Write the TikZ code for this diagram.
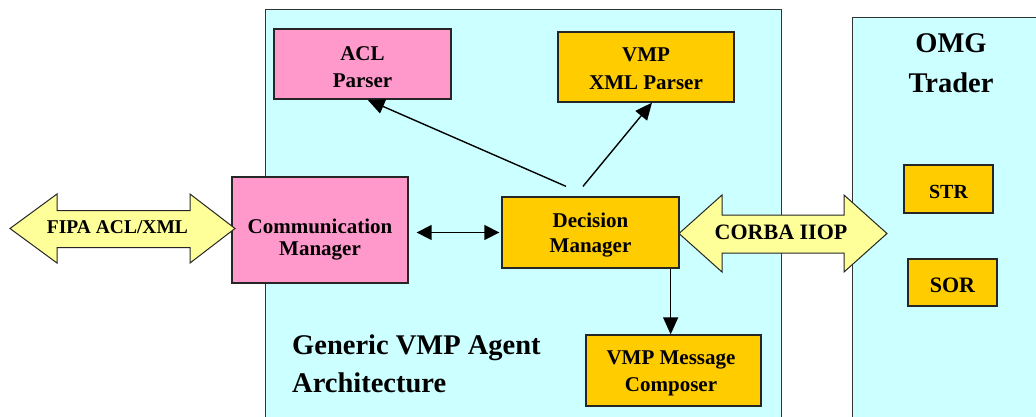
\documentclass[tikz,border=0pt]{standalone}
\usepackage{fontspec}
\setmainfont{Liberation Serif}[BoldFont={Liberation Serif Bold}]
\newfontfamily\labelface{Liberation Serif Bold}
\usetikzlibrary{arrows.meta,calc}
\definecolor{panelcyan}{RGB}{204,255,255}
\definecolor{pinkfill}{RGB}{255,153,204}
\definecolor{goldfill}{RGB}{255,204,0}
\definecolor{paleyellow}{RGB}{255,255,153}
\begin{document}
\begin{tikzpicture}[x=1pt,y=-1pt,
  panel/.style={draw=black!80, line width=1.2pt, fill=panelcyan, inner sep=0pt, anchor=north west},
  blk/.style={draw=black!85, line width=1.3pt, inner sep=0pt},
  pinkblk/.style={blk, fill=pinkfill},
  goldblk/.style={blk, fill=goldfill},
  boxtext/.style={font=\labelface\fontsize{21}{#1}\selectfont, align=center, inner sep=0pt},
  boxtext/.default=26,
  fattext/.style={font=\labelface\fontsize{#1}{#1}\selectfont, inner sep=0pt},
  bigtext/.style={font=\labelface\fontsize{28.5}{#1}\selectfont, inner sep=0pt},
  bigtext/.default=38,
  arr/.style={line width=1.4pt, -{Triangle[length=17pt,width=15pt]}},
  dblarr/.style={line width=1.4pt, {Triangle[length=15pt,width=15pt]}-{Triangle[length=15pt,width=15pt]}},
  fat/.style={draw=black!85, line width=1pt, fill=paleyellow, line join=miter},
]
\useasboundingbox (0,0) rectangle (1036,416);
\fill[white] (0,0) rectangle (1036,416);

% containers
\node[panel, minimum width=516pt, minimum height=430pt] (agent) at (265,9) {};
\node[panel, minimum width=200pt, minimum height=430pt] (trader) at (852,17) {};

% agent components
\node[pinkblk, minimum width=177pt, minimum height=70pt] (acl) at (362.5,64) {};
\node[boxtext=27, yshift=-3.5pt] (acltxt) at (acl) {ACL\\Parser};

\node[goldblk, minimum width=176pt, minimum height=70pt] (xmlp) at (646,67) {};
\node[boxtext=28, yshift=-2pt] (xmlptxt) at (xmlp) {VMP\\XML Parser};

\node[pinkblk, minimum width=176pt, minimum height=106pt] (cm) at (320,230) {};
\node[boxtext=22, yshift=-10pt] (cmtxt) at (cm) {Communication\\Manager};

\node[goldblk, minimum width=177pt, minimum height=71pt] (dm) at (590.5,232.5) {};
\node[boxtext=25, yshift=-3pt] (dmtxt) at (dm) {Decision\\Manager};

\node[goldblk, minimum width=175pt, minimum height=71pt] (vmc) at (673.5,370.5) {};
\node[boxtext=27, yshift=-3pt, xshift=-2.5pt] (vmctxt) at (vmc) {VMP Message\\Composer};

% trader components
\node[goldblk, minimum width=89pt, minimum height=48pt] (str) at (948.5,189) {};
\node[fattext=20, yshift=-3pt] (strtxt) at (str) {STR};
\node[goldblk, minimum width=89pt, minimum height=47pt] (sor) at (952.5,282.5) {};
\node[fattext=22, yshift=-3pt] (sortxt) at (sor) {SOR};

% titles
\node[bigtext=38, align=left, anchor=north west] (agenttitle) at (292,335) {Generic VMP Agent\\Architecture};
\node[bigtext=40, align=center, anchor=north] (tradertitle) at (951,33) {OMG\\Trader};

% internal connectors
\coordinate (dmL) at ($(dm.north)+(-24.5,-10)$);
\coordinate (dmR) at ($(dm.north)+(-7.5,-10)$);
\draw[arr] (dmL) -- ($(acl.south)+(5,0)$);
\draw[arr] (dmR) -- ($(xmlp.south)+(6,0)$);
\coordinate (dmB) at ($(dm.south east)+(-9,0)$);
\draw[arr] (dmB) -- (dmB |- vmc.north);
\coordinate (cmR) at ($(cm.east)+(8,0)$);
\draw[dblarr] (cmR |- dm.west) -- ($(dm.west)+(-2,0)$);

% protocol block arrows
\draw[fat] (10,228.5) -- (57,194) -- (57,210.5) -- (190,210.5) -- (190,194) -- (235,228.5)
  -- (190,263) -- (190,247.5) -- (57,247.5) -- (57,263) -- cycle;
\node[fattext=19.5] (fipa) at (117.5,227) {FIPA ACL/XML};

\draw[fat] (679,233.5) -- (722,195) -- (722,215) -- (844,215) -- (844,195) -- (887,233.5)
  -- (844,272) -- (844,253) -- (722,253) -- (722,272) -- cycle;
\node[fattext=22] (corba) at (781,232.5) {CORBA IIOP};
\end{tikzpicture}
\end{document}
